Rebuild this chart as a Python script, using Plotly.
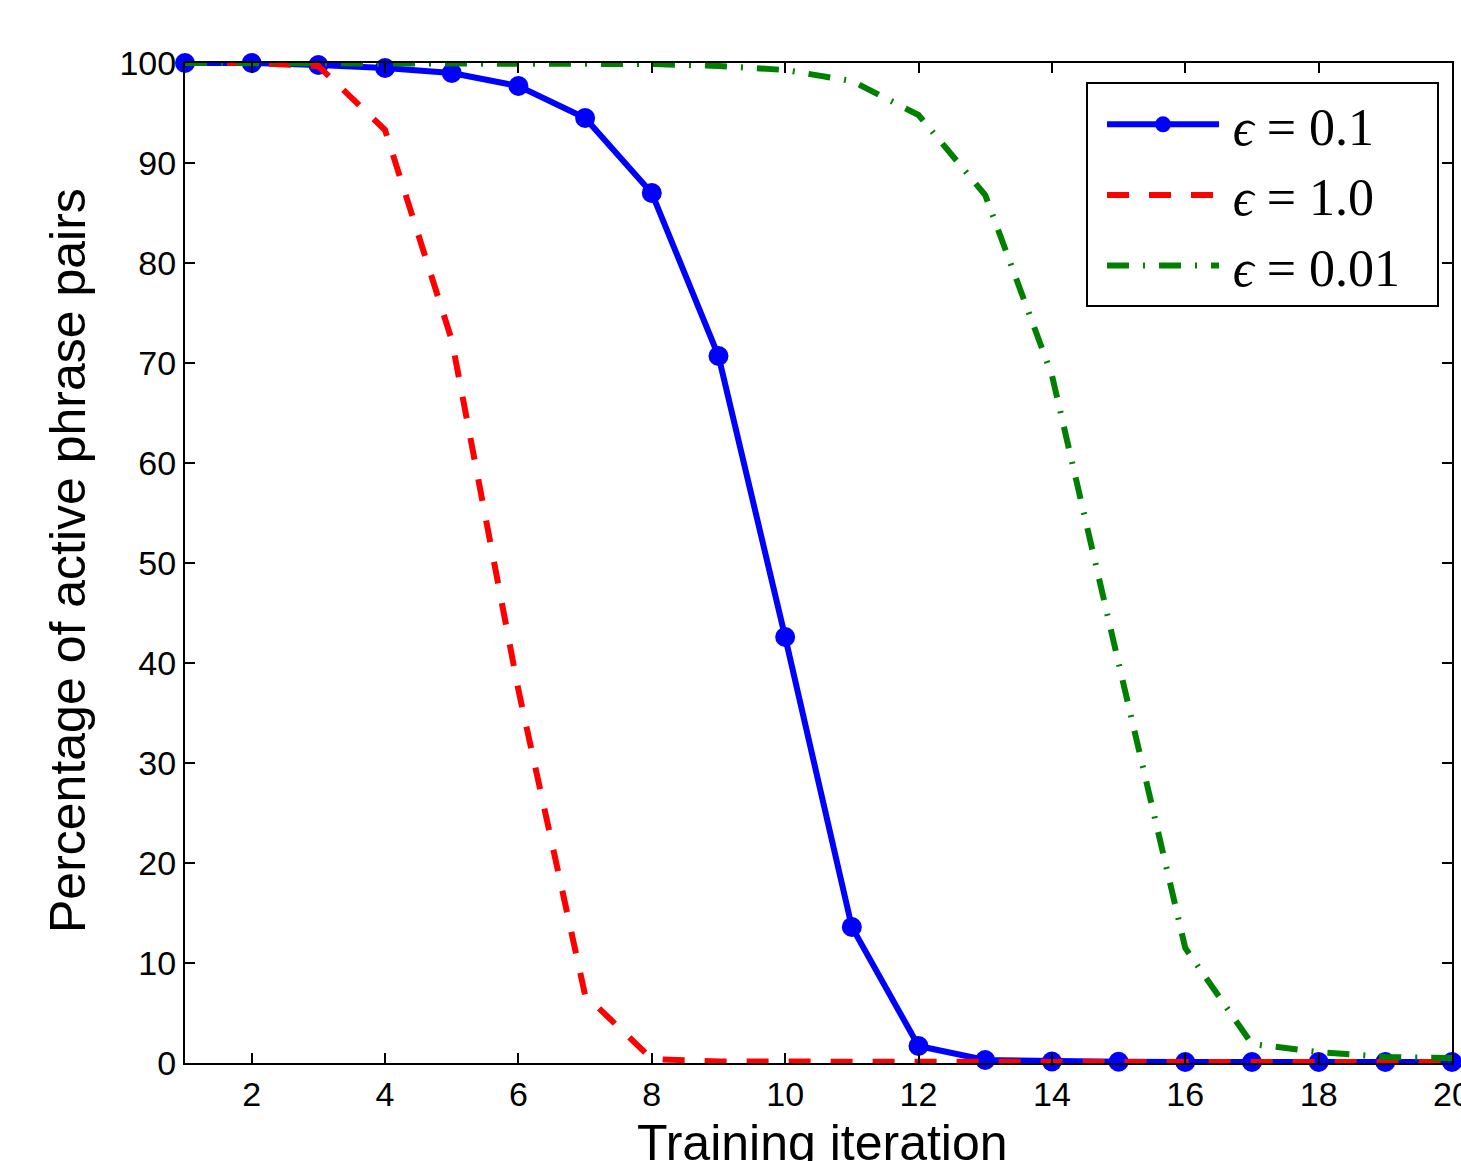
import plotly.graph_objects as go

iterations = list(range(1, 21))
eps_01 = [100, 100, 99.8, 99.5, 99.0, 97.7, 94.5, 87.0, 70.7, 42.6,
          13.6, 1.7, 0.3, 0.15, 0.12, 0.1, 0.1, 0.1, 0.1, 0.1]
eps_10 = [100, 100, 99.7, 93.3, 72.3, 37.3, 6.8, 0.4, 0.15, 0.12,
          0.1, 0.1, 0.1, 0.1, 0.1, 0.1, 0.1, 0.1, 0.1, 0.1]
eps_001 = [100, 100, 100, 100, 100, 100, 100, 99.9, 99.7, 99.3,
           98.2, 94.8, 86.8, 68.8, 40.0, 11.5, 1.9, 1.1, 0.6, 0.5]
legend_names = ["\u2006<i>ϵ</i> = 0.1", "\u2006<i>ϵ</i> = 1.0", "\u2006<i>ϵ</i> = 0.01"]
x_ticks = [2, 4, 6, 8, 10, 12, 14, 16, 18, 20]
y_ticks = [0, 10, 20, 30, 40, 50, 60, 70, 80, 90, 100]

fig = go.Figure()
fig.add_trace(go.Scatter(
    x=iterations, y=eps_01, mode="lines+markers", name=legend_names[0],
    line=dict(color="#0000ff", width=6),
    marker=dict(color="#0000ff", size=20, symbol="circle"),
    legendgroup="a", cliponaxis=False,
))
fig.add_trace(go.Scatter(
    x=iterations, y=eps_10, mode="lines", name=legend_names[1],
    line=dict(color="#ff0000", width=6, dash="22px,20px"),
    legendgroup="b",
))
fig.add_trace(go.Scatter(
    x=iterations, y=eps_001, mode="lines", name=legend_names[2],
    line=dict(color="#008000", width=6, dash="22px,14px,2px,14px"),
    legendgroup="c",
))

W, H = 1461, 1161
L, R, T, B = 185, 9, 63, 98
PW, PH = W - L - R, H - T - B


def px(xp):
    return (xp - L) / PW


def py(yp):
    return (H - B - yp) / PH


fig.update_layout(
    width=W, height=H,
    margin=dict(l=L, r=R, t=T, b=B, autoexpand=False),
    paper_bgcolor="white", plot_bgcolor="white",
    font=dict(family="Liberation Sans, Arial, sans-serif", color="black", size=34),
    showlegend=True,
    legend=dict(
        x=px(1102), y=py(84),
        xanchor="left", yanchor="top",
        bgcolor="rgba(0,0,0,0)", borderwidth=0,
        font=dict(family="Liberation Serif, DejaVu Serif, serif", size=52, color="black"),
        itemwidth=112, tracegroupgap=0, traceorder="grouped",
    ),
    xaxis=dict(
        range=[1, 20], tickvals=x_ticks, ticks="inside", ticklen=10, tickwidth=1.5,
        tickcolor="black", showline=True, linecolor="black", linewidth=2,
        mirror="ticks", showgrid=False, zeroline=False, automargin=False,
        tickfont=dict(size=34), ticklabeloverflow="allow",
    ),
    yaxis=dict(
        range=[0, 100], tickvals=y_ticks, ticks="inside", ticklen=10, tickwidth=1.5,
        tickcolor="black", showline=True, linecolor="black", linewidth=2,
        mirror="ticks", showgrid=False, zeroline=False, automargin=False,
        tickfont=dict(size=34),
    ),
    shapes=[
        dict(type="rect", xref="paper", yref="paper",
             x0=px(1087), x1=px(1438), y0=py(306), y1=py(83),
             line=dict(color="black", width=2), fillcolor="white", layer="above"),
    ],
    annotations=[
        dict(text="Training iteration", xref="paper", yref="paper",
             x=px(822), y=py(1143),
             xanchor="center", yanchor="middle", showarrow=False,
             font=dict(size=50, family="Liberation Sans, Arial, sans-serif")),
        dict(text="Percentage of active phrase pairs", xref="paper", yref="paper",
             x=px(68), y=py(561),
             xanchor="center", yanchor="middle", showarrow=False, textangle=-90,
             font=dict(size=50, family="Liberation Sans, Arial, sans-serif")),
    ],
)

fig.write_html("out.html", config={"displayModeBar": False},
               post_script="document.body.style.margin='0';")
